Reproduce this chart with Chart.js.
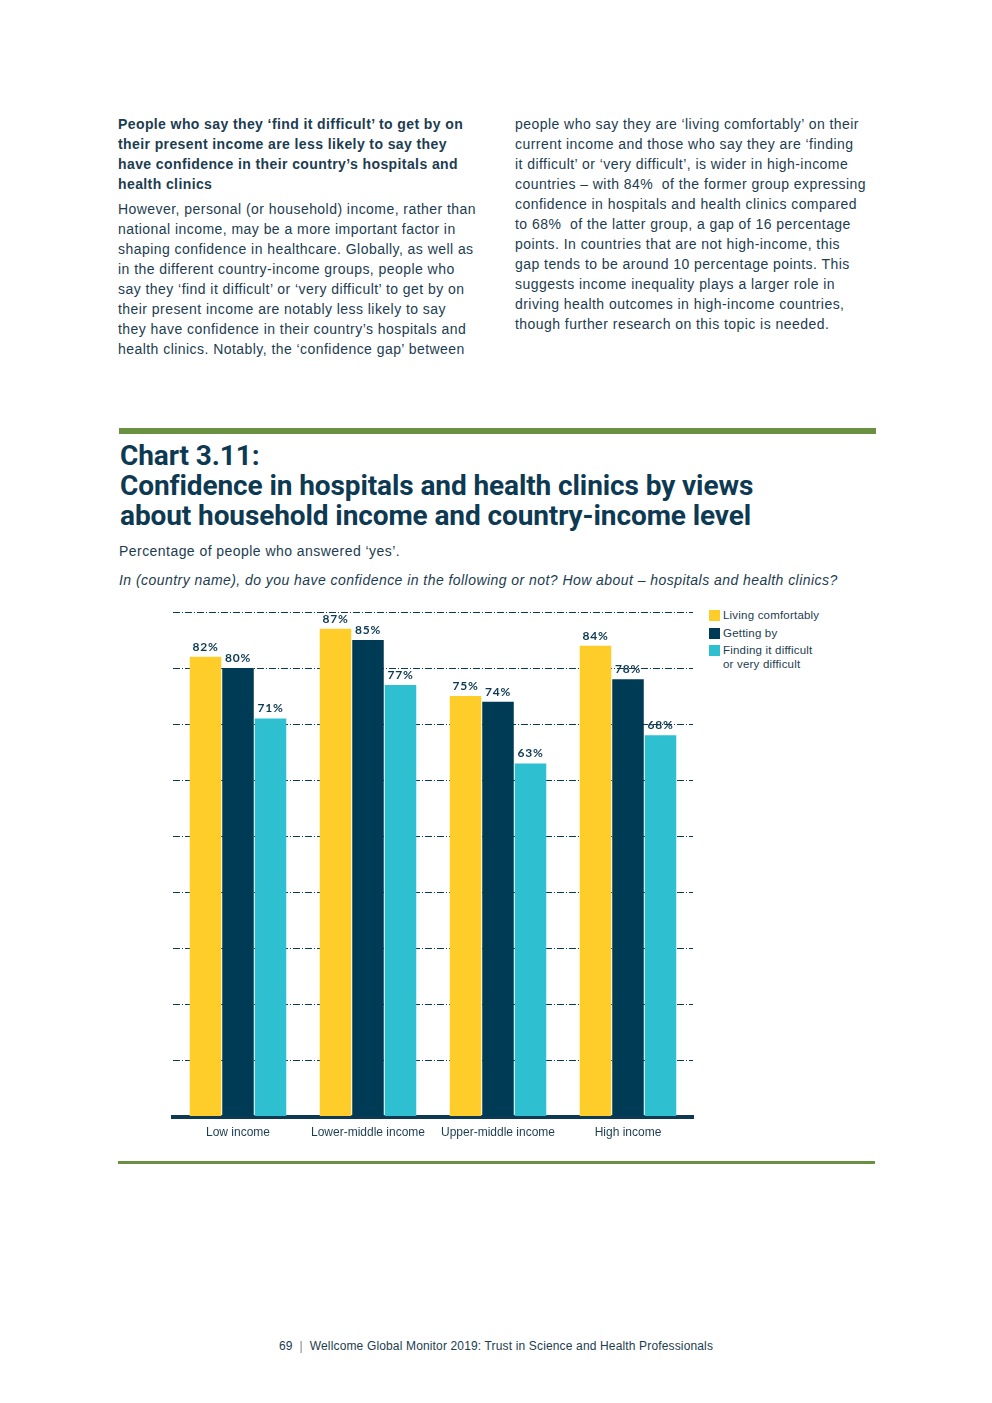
<!DOCTYPE html>
<html>
<head>
<meta charset="utf-8">
<script src="https://cdn.jsdelivr.net/npm/chart.js@4.4.1/dist/chart.umd.min.js"></script>
<style>
  body { margin: 0; background: #fff; }
  #page { position: relative; width: 992px; height: 1403px; color: #1c3c50; font-family: "Liberation Sans", Arial, sans-serif; }
  .txt { position: absolute; font-size: 14px; line-height: 20px; letter-spacing: 0.45px; white-space: nowrap; }
  .txt b { letter-spacing: 0.4px; }
  .rule { position: absolute; background: #6a9142; }
  #title { position: absolute; left: 120px; top: 441px; font-family: Roboto, sans-serif; font-weight: 700; font-size: 28px; line-height: 30px; color: #0d3a52; white-space: nowrap; letter-spacing: -0.1px; }
  .sub { position: absolute; left: 119px; font-size: 14px; letter-spacing: 0.45px; white-space: nowrap; }
  #chartBox { position: absolute; left: 163px; top: 590px; width: 540px; height: 551px; }
  #legend { position: absolute; left: 709px; top: 608px; font-size: 11.5px; letter-spacing: 0.2px; line-height: 14px; }
  #legend div { position: relative; padding-left: 14px; margin-bottom: 3.5px; }
  #legend span { position: absolute; left: 0; top: 2px; width: 11px; height: 11px; }
  #footer { position: absolute; left: 0; width: 992px; top: 1339px; text-align: center; font-size: 12px; letter-spacing: 0.15px; }
</style>
</head>
<body>
<div id="page">
  <div class="txt" style="left:118px; top:114px;"><b>People who say they ‘find it difficult’ to get by on<br>their present income are less likely to say they<br>have confidence in their country’s hospitals and<br>health clinics</b></div>
  <div class="txt" style="left:118px; top:199px;">However, personal (or household) income, rather than<br>national income, may be a more important factor in<br>shaping confidence in healthcare. Globally, as well as<br>in the different country-income groups, people who<br>say they ‘find it difficult’ or ‘very difficult’ to get by on<br>their present income are notably less likely to say<br>they have confidence in their country’s hospitals and<br>health clinics. Notably, the ‘confidence gap’ between</div>
  <div class="txt" style="left:515px; top:114px;">people who say they are ‘living comfortably’ on their<br>current income and those who say they are ‘finding<br>it difficult’ or ‘very difficult’, is wider in high-income<br>countries – with 84% &nbsp;of the former group expressing<br>confidence in hospitals and health clinics compared<br>to 68% &nbsp;of the latter group, a gap of 16 percentage<br>points. In countries that are not high-income, this<br>gap tends to be around 10 percentage points. This<br>suggests income inequality plays a larger role in<br>driving health outcomes in high-income countries,<br>though further research on this topic is needed.</div>

  <div class="rule" style="left:119px; top:428px; width:757px; height:6px;"></div>
  <div id="title">Chart 3.11:<br>Confidence in hospitals and health clinics by views<br>about household income and country-income level</div>
  <div class="sub" style="top:543px;">Percentage of people who answered ‘yes’.</div>
  <div class="sub" style="top:572px; font-style:italic;">In (country name), do you have confidence in the following or not? How about – hospitals and health clinics?</div>

  <div id="chartBox"><canvas id="myChart"></canvas></div>
  <div id="legend"></div>

  <div class="rule" style="left:118px; top:1161px; width:757px; height:3px;"></div>
  <div id="footer">69 &nbsp;<span style="color:#888">|</span>&nbsp; Wellcome Global Monitor 2019: Trust in Science and Health Professionals</div>
</div>

<script>
// values (percent)
const incomeGroups = ['Low income', 'Lower-middle income', 'Upper-middle income', 'High income'];
const livingComfortably = [82, 87, 75, 84];
const gettingBy = [80, 85, 74, 78];
const findingDifficult = [71, 77, 63, 68];
const seriesNames = ['Living comfortably', 'Getting by', 'Finding it difficult\nor very difficult'];
const seriesColors = ['#fecd2a', '#003b55', '#2ec0d1'];
const yTicks = [0, 10, 20, 30, 40, 50, 60, 70, 80, 90];

const navy = '#0d3a52';

// legend built as html so the last label can wrap
const legendEl = document.getElementById('legend');
seriesNames.forEach((name, i) => {
    let row = document.createElement('div');
    row.innerHTML = '<span style="background:' + seriesColors[i] + '"></span>' + name.replace('\n', '<br>');
    legendEl.appendChild(row);
});

// percentage labels above each bar
const barLabels = {
    id: 'barLabels',
    afterDatasetsDraw(chart) {
        const ctx = chart.ctx;
        ctx.save();
        ctx.font = 'bold 12px Lato, sans-serif';
        ctx.letterSpacing = '0.8px';
        ctx.fillStyle = navy;
        ctx.textAlign = 'center';
        ctx.textBaseline = 'bottom';
        chart.data.datasets.forEach((ds, i) => {
            chart.getDatasetMeta(i).data.forEach((bar, j) => {
                ctx.fillText(ds.data[j] + '%', bar.x, bar.y - 4);
            });
        });
        ctx.restore();
    }
};

var ctx = document.getElementById('myChart');
var myChart = new Chart(ctx, {
    type: 'bar',
    data: {
        labels: incomeGroups,
        datasets: [
            { label: seriesNames[0], data: livingComfortably, backgroundColor: seriesColors[0] },
            { label: seriesNames[1], data: gettingBy, backgroundColor: seriesColors[1] },
            { label: seriesNames[2], data: findingDifficult, backgroundColor: seriesColors[2] },
        ],
    },
    options: {
        responsive: true,
        maintainAspectRatio: false,
        animation: false,
        layout: { padding: { left: 10, right: 10, top: 22, bottom: 0 } },
        datasets: { bar: { categoryPercentage: 0.75, barPercentage: 0.97 } },
        plugins: { legend: { display: false }, tooltip: { enabled: false } },
        scales: {
            x: {
                grid: { display: false },
                border: { display: true, color: navy, width: 4 },
                ticks: { color: '#1c3c50', font: { family: 'Liberation Sans', size: 12 }, padding: 1 },
            },
            y: {
                min: yTicks[0],
                max: yTicks[yTicks.length - 1],
                afterBuildTicks: axis => { axis.ticks = yTicks.map(v => ({ value: v })); },
                grid: { color: navy, lineWidth: 1, drawTicks: false },
                border: { display: false, dash: [7, 2, 1, 2] },
                ticks: { display: false },
            },
        },
    },
    plugins: [barLabels],
});
</script>
</body>
</html>
